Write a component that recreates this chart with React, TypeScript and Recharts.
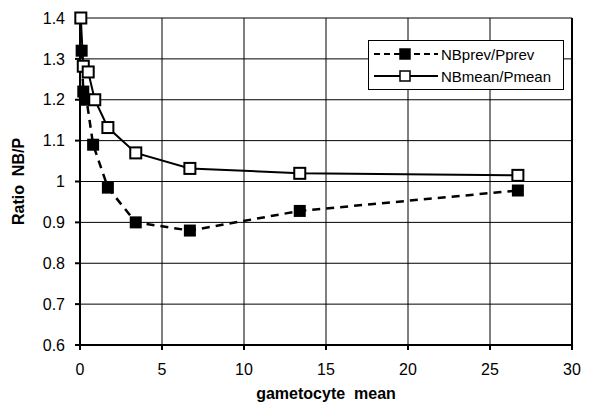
import { LineChart, Line, XAxis, YAxis, CartesianGrid, ReferenceLine } from 'recharts'

// gametocyte mean vs NB/P ratio
const prevX = [0.1, 0.2, 0.4, 0.8, 1.7, 3.4, 6.7, 13.4, 26.7]
const prevRatio = [1.32, 1.22, 1.2, 1.09, 0.985, 0.9, 0.88, 0.928, 0.978]
const meanX = [0.05, 0.2, 0.5, 0.9, 1.7, 3.4, 6.7, 13.4, 26.7]
const meanRatio = [1.4, 1.282, 1.268, 1.2, 1.132, 1.07, 1.032, 1.02, 1.015]
const xTicks = [0, 5, 10, 15, 20, 25, 30]
const yTicks = [0.6, 0.7, 0.8, 0.9, 1, 1.1, 1.2, 1.3, 1.4]

const prevData = prevX.map((x, i) => ({ x, y: prevRatio[i] }))
const meanData = meanX.map((x, i) => ({ x, y: meanRatio[i] }))

const FONT = '"Liberation Sans", Arial, sans-serif'

function FilledSquare(props: any) {
  const { cx, cy } = props
  if (cx == null || cy == null) return null
  return <rect x={cx - 6} y={cy - 6} width={12} height={12} fill="#000" />
}

function OpenSquare(props: any) {
  const { cx, cy } = props
  if (cx == null || cy == null) return null
  return (
    <rect x={cx - 5.5} y={cy - 5.5} width={11} height={11} fill="#fff" stroke="#000" strokeWidth={2} />
  )
}

function LegendBox() {
  const row = (dashed: boolean, filled: boolean, label: string) => (
    <div style={{ display: 'flex', alignItems: 'center', height: 22 }}>
      <svg width={68} height={14}>
        <line x1={2} y1={7} x2={66} y2={7} stroke="#000" strokeWidth={2} strokeDasharray={dashed ? '6 4' : undefined} />
        <rect x={28} y={2} width={10} height={10} fill={filled ? '#000' : '#fff'} stroke="#000" strokeWidth={1.5} />
      </svg>
      <span style={{ marginLeft: 1 }}>{label}</span>
    </div>
  )
  return (
    <div
      style={{
        position: 'absolute',
        left: 368,
        top: 40,
        border: '1px solid #000',
        background: '#fff',
        padding: '2px 3px',
        fontFamily: FONT,
        fontSize: 15,
        width: 196,
        boxSizing: 'border-box',
      }}
    >
      {row(true, true, 'NBprev/Pprev')}
      {row(false, false, 'NBmean/Pmean')}
    </div>
  )
}

export default function App() {
  return (
    <div style={{ position: 'absolute', left: 0, top: 0, background: '#fff' }}>
      <LineChart width={604} height={405} margin={{ top: 18, right: 32, left: 0, bottom: 0 }}>
        <CartesianGrid stroke="#000" strokeWidth={1} />
        <XAxis
          type="number"
          dataKey="x"
          domain={[0, 30]}
          ticks={xTicks}
          height={60}
          stroke="#000"
          strokeWidth={2}
          tickSize={5}
          tickMargin={14}
          tick={{ fill: '#000', fontFamily: FONT, fontSize: 16 }}
          label={{
            value: 'gametocyte\u00a0\u00a0mean',
            position: 'insideBottom',
            offset: 6,
            style: { fill: '#000', fontFamily: FONT, fontSize: 16, fontWeight: 'bold' },
          }}
        />
        <YAxis
          type="number"
          dataKey="y"
          domain={[0.6, 1.4]}
          ticks={yTicks}
          width={80}
          stroke="#000"
          strokeWidth={2}
          tickSize={5}
          tickMargin={10}
          tickFormatter={(v: number) => String(Math.round(v * 10) / 10)}
          tick={{ fill: '#000', fontFamily: FONT, fontSize: 16 }}
          label={{
            value: 'Ratio\u00a0\u00a0NB/P',
            angle: -90,
            position: 'insideLeft',
            offset: 18,
            style: { fill: '#000', fontFamily: FONT, fontSize: 16, fontWeight: 'bold', textAnchor: 'middle' },
          }}
        />
        <ReferenceLine x={30} stroke="#000" strokeWidth={2} />
        <Line
          data={prevData}
          dataKey="y"
          name="NBprev/Pprev"
          stroke="#000"
          strokeWidth={2.5}
          strokeDasharray="8 6"
          dot={<FilledSquare />}
          activeDot={false}
          isAnimationActive={false}
        />
        <Line
          data={meanData}
          dataKey="y"
          name="NBmean/Pmean"
          stroke="#000"
          strokeWidth={2}
          dot={<OpenSquare />}
          activeDot={false}
          isAnimationActive={false}
        />
      </LineChart>
      <LegendBox />
    </div>
  )
}
